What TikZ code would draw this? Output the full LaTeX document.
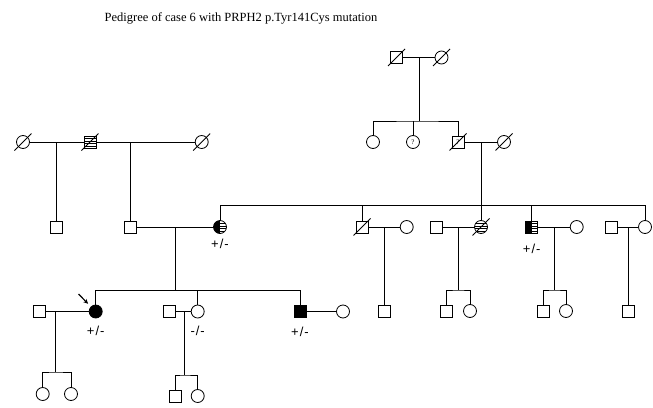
\documentclass[tikz,border=0pt]{standalone}
\usepackage{fontspec}
\setmainfont{Liberation Serif}
\newfontfamily\gtfont{Liberation Sans}
\usetikzlibrary{positioning,arrows.meta}
\newcommand{\stripelines}{%
  \foreach \d in {-3.75,-1.25,1.25,3.75}
    \draw[line width=.5pt] ([yshift=\d pt]path picture bounding box.west)
      -- ([yshift=\d pt]path picture bounding box.east);}
\tikzset{
  male/.style={draw, rectangle, minimum size=12pt, inner sep=0pt},
  female/.style={draw, circle, minimum size=13pt, inner sep=0pt},
  affected/.style={fill=black},
  stripes/.style={path picture={\stripelines}},
  halfaff/.style={path picture={\stripelines
    \fill[black] (path picture bounding box.south west) rectangle (path picture bounding box.north);}},
  unknown/.style={font=\fontsize{7}{7}\selectfont},
  gtype/.style={font=\gtfont\fontsize{13}{13}\selectfont, inner sep=0pt},
}
\newcommand{\het}{+\kern1pt/\kern1pt-}
\begin{document}
\begin{tikzpicture}[x=1pt, y=-1pt, line width=.8pt]
  \useasboundingbox (0,0) rectangle (653,407);
  \node[font=\fontsize{12.5}{14}\selectfont] (title) at (241,18)
    {Pedigree of case 6 with PRPH2 p.Tyr141Cys mutation};
  % generation I
  \node[male]   (gga) at (396.5,57.5) {};
  \node[female] (ggb) at (441.5,57.5) {};
  \node[female] (w1) at (23,142) {};
  \node[male, stripes] (m0) at (90,142) {};
  \node[female] (w2) at (201.7,142) {};
  \node[female] (c1) at (373,142) {};
  \node[female, unknown] (c2) at (413,142) {?};
  \node[male, unknown]   (gf) at (458,142) {?};
  \node[female] (gm) at (504,142) {};
  % generation II
  \node[male]   (lson) at (56,227) {};
  \node[male]   (f)  at (130,227) {};
  \node[female, halfaff] (mo) at (220,227) {};
  \node[male]   (u1) at (362,227) {};
  \node[female] (u1w) at (406.7,227) {};
  \node[male]   (a2h) at (436,227) {};
  \node[female, stripes] (a2) at (481,227) {};
  \node[male, halfaff] (u3) at (531.7,227) {};
  \node[female] (u3w) at (576.7,227) {};
  \node[male]   (a4h) at (611,227) {};
  \node[female] (a4) at (645,227) {};
  % generation III
  \node[male]   (ph) at (39.3,311.5) {};
  \node[female, affected] (p) at (95.7,311.5) {};
  \node[male]   (sish) at (169.3,311.5) {};
  \node[female] (sis) at (197.7,311.5) {};
  \node[male, affected] (bro) at (300,311.5) {};
  \node[female] (brow) at (343,311.5) {};
  \node[male]   (u1s) at (384,311) {};
  \node[male]   (a2s) at (446.7,311) {};
  \node[female] (a2d) at (470,311) {};
  \node[male]   (u3s) at (543,311) {};
  \node[female] (u3d) at (566,311) {};
  \node[male]   (a4s) at (628,311) {};
  % generation IV
  \node[female] (pd1) at (42.7,394) {};
  \node[female] (pd2) at (71,394) {};
  \node[male]   (ss) at (175.7,396) {};
  \node[female] (sd) at (197.7,396) {};

  % deceased
  \foreach \n in {gga,ggb,w1,m0,w2,gf,gm,u1,a2}
    \draw ([shift={(-8.5pt,-8.5pt)}]\n.center) -- ([shift={(8.5pt,8.5pt)}]\n.center);

  % couples and sibships
  \coordinate (k1) at (419,57.5); \coordinate (s1) at (419,121);
  \draw (gga) -- (ggb) (k1) -- (s1);
  \draw (c1.north) |- (s1) -| (gf.north);
  \draw (c2.north) -- (c2 |- s1);

  \coordinate (k2) at (56,142); \coordinate (k3) at (130,142);
  \draw (w1) -- (m0) -- (w2);
  \draw (k2) -- (lson.north) (k3) -- (f.north);

  \coordinate (k5) at (481,142); \coordinate (s5) at (481,205.5);
  \draw (gf) -- (gm) (k5) -- (a2.north);
  \draw (mo.north) |- (s5) -| (a4.north);
  \foreach \n in {u1,u3}
    \draw (\n.north) -- (\n |- s5);

  \coordinate (k4) at (175,227); \coordinate (s4) at (175,290.5);
  \draw (f) -- (mo) (k4) -- (s4);
  \draw (p.north) |- (s4) -| (bro.north);
  \draw (sis.north) -- (sis |- s4);

  \coordinate (k6) at (384,227);
  \draw (u1) -- (u1w) (k6) -- (u1s.north);
  \coordinate (k7) at (458.5,227); \coordinate (s7) at (458.5,290);
  \draw (a2h) -- (a2) (k7) -- (s7);
  \draw (a2s.north) |- (s7) -| (a2d.north);
  \coordinate (k8) at (554.2,227); \coordinate (s8) at (554.2,290);
  \draw (u3) -- (u3w) (k8) -- (s8);
  \draw (u3s.north) |- (s8) -| (u3d.north);
  \coordinate (k9) at (628,227);
  \draw (a4h) -- (a4) (k9) -- (a4s.north);

  \coordinate (k10) at (55,311.5); \coordinate (s10) at (55,372);
  \draw (ph) -- (p) (k10) -- (s10);
  \draw (pd1.north) |- (s10) -| (pd2.north);
  \coordinate (k11) at (184,311.5); \coordinate (s11) at (184,375);
  \draw (sish) -- (sis) (k11) -- (s11);
  \draw (ss.north) |- (s11) -| (sd.north);
  \draw (bro) -- (brow);

  % proband
  \coordinate (pa) at (78.5,294);
  \draw[-{Stealth[length=4.5pt,width=4.5pt]}, line width=1.2pt, shorten >=4pt] (pa) -- (p.north west);

  % genotypes
  \node[gtype, below=5pt of mo] (gmo) {\het};
  \node[gtype, below=10pt of u3] (gu3) {\het};
  \node[gtype, below=7pt of p] (gp) {\het};
  \node[gtype, below=7pt of sis] (gsis) {-\kern1pt/\kern1pt-};
  \node[gtype, below=9pt of bro] (gbro) {\het};
\end{tikzpicture}
\end{document}
